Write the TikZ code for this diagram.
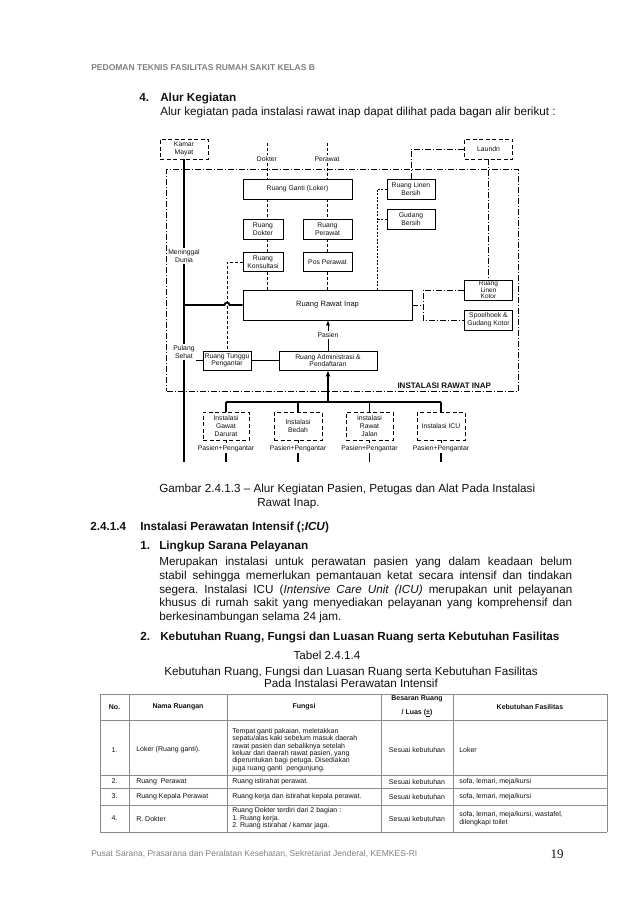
\documentclass[tikz,border=0pt]{standalone}
\usepackage{fontspec}
\setmainfont{Liberation Sans}
\newfontfamily\pagenumfont{Liberation Serif}
\usetikzlibrary{arrows.meta, positioning, calc}
\definecolor{cink}{HTML}{111111}
\definecolor{cgrey}{HTML}{7F7F7F}
\definecolor{cline}{HTML}{8A8A8A}
\newcommand{\bodysize}{\fontsize{11.7}{13.9}\selectfont}
\newcommand{\diagsize}{\fontsize{6.8}{7.6}\selectfont}
\newcommand{\tabsize}{\fontsize{7}{7.4}\selectfont}
\frenchspacing
\tikzset{
  every picture/.style={line width=0.6pt, text=cink},
  room/.style={draw, line width=0.7pt, inner sep=0pt, align=center, font=\diagsize, minimum width=#1, minimum height=20pt},
  room/.default=48pt,
  dashroom/.style={room=#1, dash pattern=on 4pt off 2.5pt},
  dashroom/.default=48pt,
  tag/.style={font=\diagsize, fill=white, inner sep=1pt, align=center},
  flow/.style={line width=1.8pt},
  petugas/.style={dash pattern=on 3pt off 2pt},
  linen/.style={dash pattern=on 6pt off 2pt on 1pt off 2pt},
  body/.style={font=\bodysize, anchor=base west, inner sep=0pt},
  bodyb/.style={body, font=\bodysize\bfseries},
  thead/.style={font=\tabsize\bfseries, inner sep=0pt, align=center},
  tcell/.style={font=\tabsize, inner sep=0pt, anchor=west, align=left},
  tabline/.style={draw=cline, line width=0.8pt},
}

\begin{document}
\begin{tikzpicture}[x=1pt, y=-1pt]
  \useasboundingbox (0,0) rectangle (638,903);
  % header and text above the chart
  \node[font=\fontsize{8.5}{10}\selectfont\bfseries, text=cgrey, anchor=base west, inner sep=0pt] (judul) at (91,70) {PEDOMAN TEKNIS FASILITAS RUMAH SAKIT KELAS B};
  \node[bodyb] (no4) at (139,101) {4.};
  \node[bodyb] (alur) at (160,101) {Alur Kegiatan};
  \node[body] (alurtxt) at (160,115.5) {Alur kegiatan pada instalasi rawat inap dapat dilihat pada bagan alir berikut :};

  % instalasi rawat inap frame
  \node[draw, linen, minimum width=351.5pt, minimum height=222pt, inner sep=0pt] (ranap) at (342.25,280) {};
  \node[font=\fontsize{8}{9}\selectfont\bfseries, inner sep=0pt, above left=2pt and 27pt of ranap.south east] (ranaplbl) {INSTALASI RAWAT INAP};

  % rooms
  \node[dashroom] (kamar) at (184,149) {Kamar\\Mayat};
  \node[dashroom] (laundri) at (488.5,149) {Laundri};
  \node[room=109pt] (ganti) at (297.5,189) {Ruang Ganti (Loker)};
  \node[room] (linenB) at (411,189) {Ruang Linen\\Bersih};
  \node[room] (gudangB) at (411,219) {Gudang\\Bersih};
  \node[room=40pt] (rdokter) at (263,229) {Ruang\\Dokter};
  \node[room=49pt] (rperawat) at (327.5,229) {Ruang\\Perawat};
  \node[room=40pt, minimum height=19pt] (konsul) at (263,262) {Ruang\\Konsultasi};
  \node[room=49pt, minimum height=19pt] (pos) at (327.5,262) {Pos Perawat};
  \node[room=169pt, minimum height=30pt, font=\fontsize{7.6}{9}\selectfont] (rawat) at (327.5,305) {Ruang Rawat Inap};
  \node[room, font=\fontsize{6.5}{6.5}\selectfont] (linenK) at (488.5,290) {Ruang\\Linen\\Kotor};
  \node[room] (spoel) at (488.5,320) {Spoelhoek \&\\Gudang Kotor};
  \node[room, minimum height=19pt] (tunggu) at (227,360.5) {Ruang Tunggu\\Pengantar};
  \node[room=98pt, minimum height=19pt] (admin) at (328,360.5) {Ruang Administrasi \&\\Pendaftaran};
  \node[dashroom=46pt, minimum height=28pt] (igd) at (226,426) {Instalasi\\Gawat\\Darurat};
  \node[dashroom=48pt, minimum height=28pt] (bedah) at (298,426) {Instalasi\\Bedah};
  \node[dashroom=47pt, minimum height=28pt] (irj) at (369.5,426) {Instalasi\\Rawat\\Jalan};
  \node[dashroom=48pt, minimum height=28pt] (icu) at (441,426) {Instalasi ICU};

  % labels on the lines
  \node[tag] (lbldok) at (267,159) {Dokter};
  \node[tag] (lblper) at (327,159) {Perawat};
  \node[tag] (mati) at (184,256) {Meninggal\\Dunia};
  \node[tag] (sehat) at (184,352) {Pulang\\Sehat};
  \node[tag] (pasien) at (328,335) {Pasien};
  \foreach \n in {igd,bedah,irj,icu}
    \node[tag, below=4pt of \n] (pp\n) {Pasien+Pengantar};

  \coordinate (dtop) at (267,143);
  \coordinate (ptop) at (327,143);
  \coordinate (keluar) at (184,462);
  \coordinate (bus) at (328,402);
  \coordinate (cl) at (377,0);
  \coordinate (kl) at (423,0);

  % staff
  \draw[petugas] (dtop) -- (lbldok.north);
  \draw[petugas] (lbldok.south) -- (ganti.north -| lbldok);
  \draw[petugas] (ptop) -- (lblper.north);
  \draw[petugas] (lblper.south) -- (ganti.north -| lblper);
  \foreach \a/\b in {ganti/rdokter, rdokter/konsul, konsul/rawat}
    \draw[petugas] (\a.south -| lbldok) -- (\b.north -| lbldok);
  \foreach \a/\b in {ganti/rperawat, rperawat/pos, pos/rawat}
    \draw[petugas] (\a.south -| lblper) -- (\b.north -| lblper);
  \draw[petugas] (konsul.west) -- (konsul.west -| tunggu.north) -- (tunggu.north);

  % linen
  \draw[linen] (laundri.west) -- (laundri.west -| linenB) -- (linenB.north);
  \draw[linen] (laundri.south) -- (linenK.north);
  \draw[dash pattern=on 2pt off 1.5pt] (linenB.west) -- (linenB.west -| cl) -- (rawat.north -| cl);
  \draw[dash pattern=on 2pt off 1.5pt] (gudangB.west) -- (gudangB.west -| cl);
  \draw[linen] (rawat.east) -- (rawat.east -| kl);
  \draw[linen] (linenK.west) -- (linenK.west -| kl) -- (spoel.west -| kl) -- (spoel.west);

  % patients
  \draw[flow] (kamar.south) -- (mati.north);
  \draw[flow] (mati.south) -- (sehat.north);
  \draw[flow] (sehat.south) -- (keluar);
  \draw[flow] (kamar.south |- rawat.west) -- ($(tunggu.north |- rawat.west)+(-2.5pt,0)$) arc[start angle=180, end angle=0, radius=2.5pt] -- (rawat.west);
  \draw (sehat.east |- tunggu.west) -- (tunggu.west);
  \draw (tunggu) -- (admin);
  \draw (admin.north) -- (pasien.south);
  \draw[-{Latex[length=5pt, width=4pt]}] (pasien.north) -- (rawat.south -| pasien);
  \draw[flow] (igd.north |- bus) -- (icu.north |- bus);
  \draw[flow, -{Latex[length=6pt, width=5pt]}] (bus) -- (admin.south);
  \foreach \n in {igd,bedah,irj,icu} {
    \draw[flow] (\n.north |- bus) -- (\n.north);
    \draw[petugas] (\n.south) -- (pp\n.north);
    \draw[flow] (pp\n.south) -- (pp\n.south |- keluar);
  }

  % caption and section text
  \node[body] (gambar) at (159,492) {Gambar 2.4.1.3 – Alur Kegiatan Pasien, Petugas dan Alat Pada Instalasi};
  \node[body] (gambar2) at (257,506) {Rawat Inap.};
  \node[bodyb] (sub) at (90,530) {2.4.1.4};
  \node[bodyb] (icutitle) at (140,530) {Instalasi Perawatan Intensif (;\textit{ICU})};
  \node[bodyb] (no1) at (140,549) {1.};
  \node[bodyb] (lingkup) at (159,549) {Lingkup Sarana Pelayanan};
  \node[body, anchor=north west, text width=413pt, align=justify] (para) at (159,556.5) {Merupakan instalasi untuk perawatan pasien yang dalam keadaan belum\linebreak stabil sehingga memerlukan pemantauan ketat secara intensif dan tindakan\linebreak segera. Instalasi ICU (\textit{Intensive Care Unit (ICU)} merupakan unit pelayanan\linebreak khusus di rumah sakit yang menyediakan pelayanan yang komprehensif dan\linebreak berkesinambungan selama 24 jam.};
  \node[bodyb] (no2) at (140,640) {2.};
  \node[bodyb] (kebutuhan) at (160,640) {Kebutuhan Ruang, Fungsi dan Luasan Ruang serta Kebutuhan Fasilitas};
  \node[font=\bodysize, inner sep=0pt, anchor=base] (tabel) at (327,659.5) {Tabel 2.4.1.4};
  \node[font=\bodysize, inner sep=0pt, anchor=base] (tabjudul) at (351,675) {Kebutuhan Ruang, Fungsi dan Luasan Ruang serta Kebutuhan Fasilitas};
  \node[font=\bodysize, inner sep=0pt, anchor=base] (tabjudul2) at (351,687) {Pada Instalasi Perawatan Intensif};

  % table grid
  \foreach \y in {694,720,775,788,805,832}
    \draw[tabline] (100,\y) -- (607,\y);
  \foreach \x in {100,129,227,381,453,607}
    \draw[tabline] (\x,694) -- (\x,832);
  \node[thead] at (114.5,707) {No.};
  \node[thead] at (178,707) {Nama Ruangan};
  \node[thead] at (304,707) {Fungsi};
  \node[thead] at (417,699) {Besaran Ruang};
  \node[thead] at (417,713) {/ Luas (\underline{±})};
  \node[thead] at (530,707) {Kebutuhan Fasilitas};
  % rows
  \foreach \y/\no/\nama/\fasil in {750/1./Loker (Ruang ganti)./Loker, 781.5/2./Ruang\ \ Perawat/{sofa, lemari, meja/kursi}, 796.5/3./Ruang Kepala Perawat/{sofa, lemari, meja/kursi}, 818.5/4./R. Dokter/{sofa, lemari, meja/kursi, wastafel,\\dilengkapi toilet}} {
    \node[font=\tabsize, inner sep=0pt] at (114.5,\y) {\no};
    \node[tcell] at (136,\y) {\nama};
    \node[font=\tabsize, inner sep=0pt] at (417,\y) {Sesuai kebutuhan};
    \node[tcell] at (459,\y) {\fasil};
  }
  \node[tcell] at (232,750) {Tempat ganti pakaian, meletakkan\\sepatu/alas kaki sebelum masuk daerah\\rawat pasien dan sebaliknya setelah\\keluar dari daerah rawat pasien, yang\\diperuntukan bagi petuga. Disediakan\\juga ruang ganti\ \ pengunjung.};
  \node[tcell] at (232,781.5) {Ruang istirahat perawat.};
  \node[tcell] at (232,796.5) {Ruang kerja dan istirahat kepala perawat.};
  \node[tcell] at (232,818.5) {Ruang Dokter terdiri dari 2 bagian :\\1. Ruang kerja.\\2. Ruang istirahat / kamar jaga.};

  % footer
  \node[font=\fontsize{8.5}{10}\selectfont, text=cgrey, anchor=base west, inner sep=0pt] (kaki) at (91,856) {Pusat Sarana, Prasarana dan Peralatan Kesehatan, Sekretariat Jenderal, KEMKES-RI};
  \node[font=\pagenumfont\fontsize{13}{15}\selectfont, inner sep=0pt] (hal) at (557,854) {19};
\end{tikzpicture}
\end{document}
